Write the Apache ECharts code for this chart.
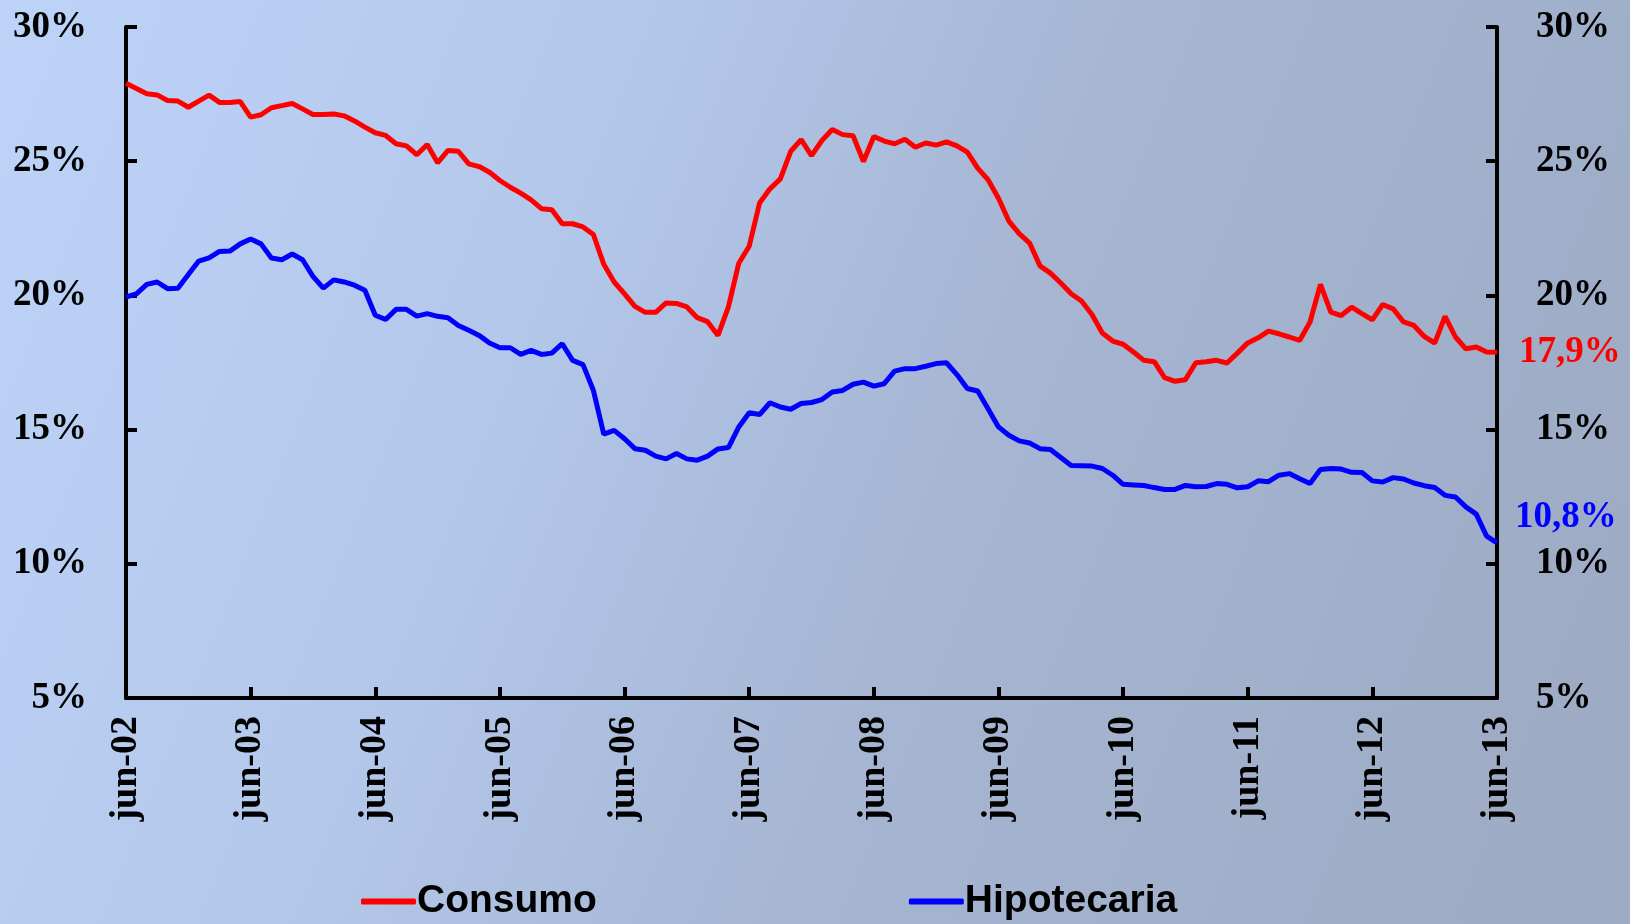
<!DOCTYPE html>
<html>
<head>
<meta charset="utf-8">
<script src="https://cdn.jsdelivr.net/npm/echarts@6/dist/echarts.min.js"></script>
<style>
  html, body { margin: 0; padding: 0; }
  #chart { width: 1630px; height: 924px; }
</style>
</head>
<body>
<div id="chart"></div>
<script>
// month labels, jun-02 .. jun-13
const monthNames = ["ene", "feb", "mar", "abr", "may", "jun", "jul", "ago", "sep", "oct", "nov", "dic"];
const months = [];
for (let y = 2002, m = 5; y < 2013 || (y === 2013 && m <= 5); m++) {
  if (m === 12) { m = 0; y++; }
  if (y === 2013 && m > 5) break;
  months.push(monthNames[m] + "-" + String(y).slice(2));
}

const consumo = [
  27.9, 27.71, 27.51, 27.47, 27.26, 27.24, 27.01, 27.24, 27.46, 27.19, 27.19, 27.22,
  26.64, 26.73, 26.99, 27.07, 27.15, 26.95, 26.74, 26.74, 26.76, 26.69, 26.5, 26.27,
  26.06, 25.96, 25.65, 25.57, 25.24, 25.62, 24.94, 25.4, 25.37, 24.9, 24.8, 24.59,
  24.28, 24.03, 23.81, 23.56, 23.23, 23.19, 22.67, 22.67, 22.55, 22.27, 21.16, 20.5,
  20.06, 19.59, 19.37, 19.37, 19.72, 19.7, 19.57, 19.17, 19.02, 18.51, 19.57, 21.2,
  21.83, 23.44, 23.97, 24.34, 25.37, 25.8, 25.21, 25.77, 26.18, 25.99, 25.95, 24.99,
  25.92, 25.75, 25.65, 25.82, 25.52, 25.68, 25.6, 25.72, 25.57, 25.34, 24.74, 24.31,
  23.62, 22.77, 22.3, 21.95, 21.1, 20.83, 20.46, 20.06, 19.79, 19.29, 18.6, 18.3,
  18.18, 17.89, 17.58, 17.53, 16.94, 16.8, 16.86, 17.49, 17.53, 17.58, 17.48, 17.85,
  18.23, 18.42, 18.67, 18.57, 18.45, 18.32, 19.01, 20.41, 19.38, 19.25, 19.56, 19.32,
  19.09, 19.66, 19.5, 19.01, 18.88, 18.47, 18.22, 19.22, 18.45, 18.01, 18.08, 17.89,
  17.88
];

const hipotecaria = [
  19.94, 20.06, 20.41, 20.5, 20.25, 20.27, 20.78, 21.28, 21.4, 21.64, 21.65, 21.92,
  22.1, 21.92, 21.39, 21.33, 21.54, 21.33, 20.71, 20.27, 20.58, 20.5, 20.38, 20.19,
  19.26, 19.1, 19.48, 19.48, 19.23, 19.32, 19.22, 19.17, 18.88, 18.7, 18.51, 18.23,
  18.05, 18.05, 17.8, 17.95, 17.8, 17.85, 18.2, 17.58, 17.42, 16.46, 14.83, 14.97,
  14.66, 14.29, 14.23, 14.01, 13.91, 14.11, 13.91, 13.86, 14.01, 14.28, 14.33, 15.1,
  15.63, 15.56, 16.0, 15.84, 15.76, 15.97, 16.01, 16.12, 16.4, 16.46, 16.69, 16.77,
  16.62, 16.71, 17.18, 17.27, 17.27, 17.36, 17.46, 17.49, 17.05, 16.53, 16.44, 15.78,
  15.1, 14.79, 14.58, 14.5, 14.29, 14.26, 13.96, 13.66, 13.65, 13.64, 13.55, 13.3,
  12.96, 12.94, 12.92, 12.84, 12.77, 12.77, 12.92, 12.87, 12.88, 12.99, 12.96, 12.83,
  12.87, 13.09, 13.06, 13.3, 13.36, 13.17, 12.99, 13.51, 13.55, 13.53, 13.41, 13.4,
  13.09, 13.05, 13.21, 13.16, 13.01, 12.91, 12.84, 12.55, 12.49, 12.12, 11.85, 11.03,
  10.78
];

const endLabels = { consumo: "17,9%", hipotecaria: "10,8%" };

const serif = "'Liberation Serif', 'DejaVu Serif', serif";
const sans = "'Liberation Sans', Arial, sans-serif";

function valueAxis(pos) {
  return {
    type: "value",
    position: pos,
    min: 5,
    max: 30,
    interval: 5,
    axisLine: { show: true, lineStyle: { color: "#000", width: 4 } },
    axisTick: { show: true, inside: true, length: 11, lineStyle: { color: "#000", width: 4 } },
    splitLine: { show: false },
    axisLabel: {
      formatter: "{value}%",
      color: "#000",
      fontFamily: serif,
      fontWeight: "bold",
      fontSize: 37,
      margin: 39
    }
  };
}

const option = {
  animation: false,
  backgroundColor: {
    type: "linear", x: 0, y: 0, x2: 1, y2: 0.7,
    colorStops: [
      { offset: 0, color: "#bdd3f7" },
      { offset: 0.35, color: "#b3c7ea" },
      { offset: 0.6, color: "#a6b6d3" },
      { offset: 1, color: "#9dabc4" }
    ]
  },
  grid: { left: 126, right: 133, top: 27, bottom: 226, containLabel: false },
  legend: {
    left: 356,
    top: 877,
    icon: "roundRect",
    itemWidth: 55,
    itemHeight: 6,
    itemGap: 312,
    textStyle: { color: "#000", fontFamily: sans, fontWeight: "bold", fontSize: 39, padding: [0, 0, 0, -4] },
    data: ["Consumo", "Hipotecaria"]
  },
  xAxis: {
    type: "category",
    data: months,
    boundaryGap: false,
    axisLine: { lineStyle: { color: "#000", width: 4 } },
    axisTick: { show: true, inside: true, interval: 11, length: 11, lineStyle: { color: "#000", width: 4 } },
    axisLabel: {
      interval: 11,
      rotate: 90,
      color: "#000",
      fontFamily: serif,
      fontWeight: "bold",
      fontSize: 38,
      margin: 18
    }
  },
  yAxis: [valueAxis("left"), valueAxis("right")],
  series: [
    {
      name: "Consumo",
      type: "line",
      data: consumo,
      showSymbol: false,
      symbol: "none",
      lineStyle: { color: "#ff0000", width: 5 },
      itemStyle: { color: "#ff0000" },
      endLabel: {
        show: true,
        formatter: endLabels.consumo,
        color: "#ff0000",
        fontFamily: serif,
        fontWeight: "bold",
        fontSize: 37,
        distance: 22
      }
    },
    {
      name: "Hipotecaria",
      type: "line",
      data: hipotecaria,
      showSymbol: false,
      symbol: "none",
      lineStyle: { color: "#0000ff", width: 5 },
      itemStyle: { color: "#0000ff" },
      endLabel: {
        show: true,
        formatter: endLabels.hipotecaria,
        color: "#0000ff",
        fontFamily: serif,
        fontWeight: "bold",
        fontSize: 37,
        distance: 18,
        offset: [0, -25]
      }
    }
  ]
};

const chart = echarts.init(document.getElementById("chart"));
chart.setOption(option);
window.addEventListener("resize", chart.resize);
</script>
</body>
</html>
